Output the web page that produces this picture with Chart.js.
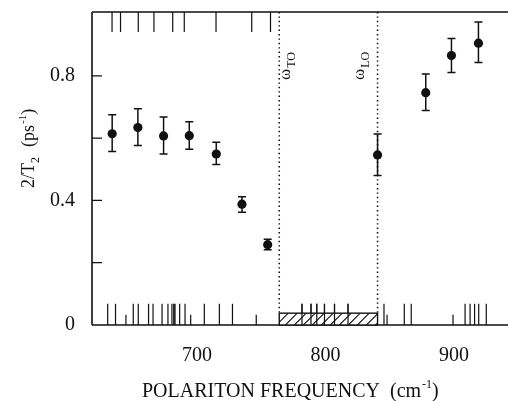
<!DOCTYPE html>
<html>
<head>
<meta charset="utf-8">
<script src="https://cdn.jsdelivr.net/npm/chart.js@4/dist/chart.umd.min.js"></script>
<style>
html,body{margin:0;padding:0;background:#fff;}
#wrap{width:508px;height:401px;}
</style>
</head>
<body>
<div id="wrap"><canvas id="c" width="508" height="401"></canvas></div>
<script>
// ---- data ----
const freq     = [634, 654, 674, 694, 715, 735, 755, 840.5, 878, 898, 919];
const rate     = [0.614, 0.634, 0.607, 0.608, 0.549, 0.388, 0.258, 0.546, 0.746, 0.865, 0.905];
const rateLow  = [0.557, 0.576, 0.549, 0.564, 0.515, 0.362, 0.242, 0.480, 0.689, 0.811, 0.843];
const rateHigh = [0.675, 0.694, 0.668, 0.653, 0.587, 0.412, 0.275, 0.613, 0.806, 0.920, 0.973];
const omegaTO = 764;
const omegaLO = 840.5;
const bandHeight = 0.038;
const rugBottomTall  = [630.5, 636.6, 650.4, 654.3, 662.3, 665.8, 672.8, 677.4, 680.5, 681.9, 682.9, 686.5, 690.7, 705.7, 717.4, 727.6, 781.7, 788.7, 793.2, 799.2, 807, 817.5, 845.5, 861.3, 866.7, 908.6, 912.5, 916, 919.2, 925.1];
const rugBottomShort = [644.7, 695.1, 746.1, 847.9, 899.2];
const rugTop = [633.9, 640.5, 654.3, 666.5, 681.1, 690.1, 714.8, 742.6, 757.2];
const xTicks = [700, 800, 900];
const yTicks = [0, 0.2, 0.4, 0.6, 0.8];
const yLabelled = [0, 0.4, 0.8];

const INK = '#111';
const SERIF = '"Liberation Serif", "Times New Roman", serif';

const decor = {
  id: 'decor',
  beforeDatasetsDraw(chart) {
    const {ctx, chartArea: a, scales: {x, y}} = chart;
    ctx.save();
    ctx.strokeStyle = INK;
    ctx.fillStyle = INK;
    // frame: left, top, bottom
    ctx.lineWidth = 1.6;
    ctx.beginPath();
    ctx.moveTo(a.left, a.top); ctx.lineTo(a.right, a.top);
    ctx.moveTo(a.left, a.top); ctx.lineTo(a.left, a.bottom);
    ctx.moveTo(a.left, a.bottom); ctx.lineTo(a.right, a.bottom);
    ctx.stroke();
    // inward y ticks
    ctx.lineWidth = 1.2;
    ctx.beginPath();
    yTicks.forEach(v => { if (v === 0) return; const py = y.getPixelForValue(v); ctx.moveTo(a.left, py); ctx.lineTo(a.left + 10, py); });
    ctx.stroke();
    // rug marks
    ctx.lineWidth = 1.2;
    ctx.beginPath();
    rugBottomTall.forEach(v => { const px = x.getPixelForValue(v); ctx.moveTo(px, y.getPixelForValue(0)); ctx.lineTo(px, y.getPixelForValue(0.068)); });
    rugBottomShort.forEach(v => { const px = x.getPixelForValue(v); ctx.moveTo(px, y.getPixelForValue(0)); ctx.lineTo(px, y.getPixelForValue(0.033)); });
    rugTop.forEach(v => { const px = x.getPixelForValue(v); ctx.moveTo(px, a.top); ctx.lineTo(px, a.top + 20); });
    ctx.stroke();
    // hatched band
    const bx0 = x.getPixelForValue(omegaTO), bx1 = x.getPixelForValue(omegaLO);
    const by0 = y.getPixelForValue(0), by1 = y.getPixelForValue(bandHeight);
    ctx.fillStyle = '#fff';
    ctx.fillRect(bx0, by1, bx1 - bx0, by0 - by1);
    ctx.save();
    ctx.beginPath(); ctx.rect(bx0, by1, bx1 - bx0, by0 - by1); ctx.clip();
    ctx.lineWidth = 1.1;
    ctx.beginPath();
    const h = by0 - by1;
    for (let sx = bx0 - h; sx < bx1 + h; sx += 9) { ctx.moveTo(sx, by0); ctx.lineTo(sx + h, by1); }
    ctx.stroke();
    ctx.restore();
    ctx.lineWidth = 1.4;
    ctx.strokeRect(bx0, by1, bx1 - bx0, by0 - by1);
    // rug marks over band
    ctx.lineWidth = 1.2;
    ctx.beginPath();
    rugBottomTall.forEach(v => { if (v > omegaTO && v < omegaLO) { const px = x.getPixelForValue(v); ctx.moveTo(px, by0); ctx.lineTo(px, y.getPixelForValue(0.068)); } });
    ctx.stroke();
    // dotted vertical lines
    ctx.lineWidth = 1.6;
    ctx.setLineDash([1.4, 3]);
    ctx.beginPath();
    [omegaTO, omegaLO].forEach(v => { const px = x.getPixelForValue(v); ctx.moveTo(px, a.top); ctx.lineTo(px, by1); });
    ctx.stroke();
    ctx.setLineDash([]);
    // error bars
    ctx.lineWidth = 1.5;
    ctx.beginPath();
    freq.forEach((f, i) => {
      const px = x.getPixelForValue(f), p0 = y.getPixelForValue(rateLow[i]), p1 = y.getPixelForValue(rateHigh[i]);
      ctx.moveTo(px, p0); ctx.lineTo(px, p1);
      ctx.moveTo(px - 4, p0); ctx.lineTo(px + 4, p0);
      ctx.moveTo(px - 4, p1); ctx.lineTo(px + 4, p1);
    });
    ctx.stroke();
    // omega labels (rotated)
    ctx.fillStyle = INK;
    const omegaLabel = (xv, dx, sub) => {
      const px = x.getPixelForValue(xv) + dx;
      ctx.save();
      ctx.translate(px, 80);
      ctx.rotate(-Math.PI / 2);
      ctx.textBaseline = 'alphabetic';
      ctx.font = '17px ' + SERIF;
      ctx.fillText('\u03C9', 0, 0);
      const w = ctx.measureText('\u03C9').width;
      ctx.font = '12px ' + SERIF;
      ctx.fillText(sub, w + 1, 5);
      ctx.restore();
    };
    omegaLabel(omegaTO, 11, 'TO');
    omegaLabel(omegaLO, -14, 'LO');
    // axis titles
    ctx.textBaseline = 'alphabetic';
    ctx.textAlign = 'left';
    ctx.font = '20px ' + SERIF;
    let t1 = 'POLARITON FREQUENCY  (cm';
    let tx = 142;
    ctx.fillText(t1, tx, 397); tx += ctx.measureText(t1).width;
    ctx.font = '12px ' + SERIF;
    ctx.fillText('-1', tx + 1, 388); tx += ctx.measureText('-1').width + 1;
    ctx.font = '20px ' + SERIF;
    ctx.fillText(')', tx, 397);
    // y title
    ctx.save();
    ctx.translate(34, 188);
    ctx.rotate(-Math.PI / 2);
    let ty = 0;
    ctx.font = '18px ' + SERIF;
    ctx.fillText('2/T', ty, 0); ty += ctx.measureText('2/T').width;
    ctx.font = '12px ' + SERIF;
    ctx.fillText('2', ty, 5); ty += ctx.measureText('2').width;
    ctx.font = '18px ' + SERIF;
    ty += 10;
    ctx.fillText('(ps', ty, 0); ty += ctx.measureText('(ps').width;
    ctx.font = '11px ' + SERIF;
    ctx.fillText('-1', ty + 1, -8); ty += ctx.measureText('-1').width + 1;
    ctx.font = '18px ' + SERIF;
    ctx.fillText(')', ty, 0);
    ctx.restore();
    ctx.restore();
  }
};

const zeroPad = s => { s.paddingTop = 0; s.paddingBottom = 0; s.paddingLeft = 0; s.paddingRight = 0; };

new Chart(document.getElementById('c'), {
  type: 'scatter',
  data: {
    datasets: [{
      data: freq.map((f, i) => ({x: f, y: rate[i]})),
      pointRadius: 4.6,
      pointBackgroundColor: INK,
      pointBorderWidth: 0,
      showLine: false
    }]
  },
  options: {
    responsive: false,
    animation: false,
    devicePixelRatio: 1,
    layout: {autoPadding: false, padding: {top: 12, left: 0, right: 0, bottom: 0}},
    plugins: {legend: {display: false}, tooltip: {enabled: false}},
    scales: {
      x: {
        type: 'linear', min: 618.3, max: 942,
        afterBuildTicks: s => { s.ticks = xTicks.map(v => ({value: v})); },
        afterFit: s => { s.height = 76; zeroPad(s); },
        grid: {display: false, drawTicks: false},
        border: {display: false},
        ticks: {autoSkip: false, maxRotation: 0, padding: 19, color: INK,
                font: {family: SERIF, size: 20}, callback: v => String(v)}
      },
      y: {
        type: 'linear', min: 0, max: 1.005,
        afterBuildTicks: s => { s.ticks = yTicks.map(v => ({value: v})); },
        afterFit: s => { s.width = 92; zeroPad(s); },
        grid: {display: false, drawTicks: false},
        border: {display: false},
        ticks: {autoSkip: false, padding: 17, color: INK,
                font: {family: SERIF, size: 20},
                callback: v => yLabelled.includes(v) ? (v === 0 ? '0' : v.toFixed(1)) : ''}
      }
    }
  },
  plugins: [decor]
});
</script>
</body>
</html>
